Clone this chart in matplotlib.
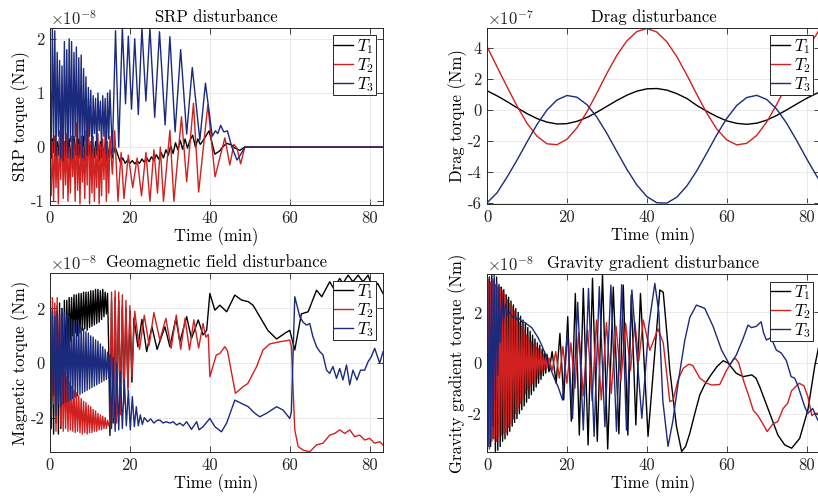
import numpy as np
import matplotlib
matplotlib.use("Agg")
import matplotlib.pyplot as plt

plt.rcParams.update({
    "font.family": "serif",
    "font.serif": ["cmr10"],
    "mathtext.fontset": "cm",
    "axes.unicode_minus": False,
    "axes.formatter.use_mathtext": False,
})

# ---------------------------------------------------------------- data
# time axis in minutes; torques are in units of the offset shown on each panel
t_fast = [0.0, 0.3, 0.6, 0.9, 1.2, 1.5, 1.8, 2.1, 2.4, 2.7,
          3.0, 3.3, 3.6, 3.9, 4.2, 4.5, 4.8, 5.1, 5.4, 5.7,
          6.0, 6.3, 6.6, 6.9, 7.2, 7.5, 7.8, 8.1, 8.4, 8.7,
          9.0, 9.3, 9.6, 9.9, 10.2, 10.5, 10.8, 11.1, 11.4, 11.7,
          12.0, 12.3, 12.6, 12.9, 13.2, 13.5, 13.8, 14.1, 14.4, 14.7,
          15.0]

# SRP disturbance (x1e-8 Nm)
srp_T1_fast = [0.0, -0.2, 0.15, -0.1, 0.2, -0.25, 0.1, -0.15, 0.2, -0.2,
               0.15, -0.25, 0.1, -0.2, 0.2, -0.1, 0.15, -0.25, 0.05, -0.2,
               0.2, -0.15, 0.1, -0.25, 0.15, -0.2, 0.1, -0.1, 0.2, -0.25,
               0.05, -0.2, 0.15, -0.15, 0.1, -0.25, 0.05, -0.2, 0.1, -0.15,
               0.05, -0.25, 0.1, -0.2, 0.0, -0.15, 0.05, -0.25, 0.0, -0.2,
               0.05]
srp_T2_fast = [-0.2, -0.9, 0.1, -1.0, 0.2, -0.75, 0.0, -1.05, 0.3, -0.6,
               0.6, -0.95, 0.1, -0.7, 0.25, -1.0, 0.0, -0.85, 0.2, -0.55,
               0.1, -1.0, 0.45, -0.8, 0.05, -1.05, 0.2, -0.65, 0.0, -0.95,
               0.3, -0.7, 0.9, -1.05, 0.1, -0.85, 0.2, -1.0, 0.0, -0.75,
               0.25, -1.05, 0.05, -0.9, 0.15, -0.6, 0.3, -1.0, 0.1, -0.85,
               0.2]
srp_T3_fast = [1.5, -0.2, 2.2, 0.1, 2.15, -0.15, 1.75, 0.2, 1.6, -0.2,
               1.5, -0.25, 1.95, 0.0, 1.8, -0.2, 2.0, 0.1, 1.95, -0.2,
               1.75, 0.2, 1.85, -0.15, 1.65, 0.05, 1.7, -0.2, 1.45, 0.1,
               1.3, -0.15, 1.1, 0.2, 1.05, -0.1, 0.95, 0.25, 0.9, -0.05,
               1.0, 0.3, 0.85, 0.0, 0.95, 0.2, 0.9, -0.1, 1.0, 0.15,
               1.05]
srp_T1_t = [15.6, 16.3, 17.0, 17.6, 18.2, 18.8, 19.4, 20.0, 20.6, 21.2,
            21.8, 22.4, 23.0, 23.6, 24.2, 24.8, 25.4, 26.0, 26.6, 27.2,
            27.8, 28.4, 29.0, 29.6, 30.2, 30.8, 31.4, 32.0, 32.6, 33.2,
            33.8, 34.4, 35.0, 35.7, 36.4, 37.0, 37.6, 38.3, 39.8, 41.25,
            42.5, 43.2, 44.2, 45.4, 46.3, 47.5, 48.75, 83.33]
srp_T1_v = [-0.2, 0.0, -0.15, -0.28, -0.2, -0.3, -0.24, -0.3, -0.25, -0.31,
            -0.26, -0.3, -0.22, -0.28, -0.2, -0.27, -0.18, -0.25, -0.14, -0.22,
            -0.1, -0.2, -0.05, -0.15, 0.02, -0.12, 0.08, -0.05, 0.12, -0.04,
            0.15, -0.02, 0.12, 0.22, 0.0, 0.15, 0.05, 0.12, 0.3, -0.13,
            -0.07, 0.0, 0.07, 0.04, -0.02, -0.06, 0.0, 0.0]
srp_T2_t = [15.6, 16.2, 17.0, 17.8, 18.5, 19.6, 20.7, 21.8, 22.9, 24.0,
            25.0, 26.0, 26.9, 27.6, 28.4, 30.0, 31.0, 32.9, 34.2, 35.9,
            37.2, 39.5, 41.3, 43.75, 45.0, 46.0, 46.8, 47.7, 48.75, 83.33]
srp_T2_v = [-0.5, 0.3, -1.0, -0.1, -0.95, -0.15, -0.75, -0.2, -0.9, -0.1,
            -1.0, -0.05, -0.85, 0.0, -1.0, 0.31, -1.0, 0.56, -0.64, 0.81,
            -0.83, 0.78, -0.55, 0.17, -0.33, 0.05, -0.02, -0.31, 0.0, 0.0]
srp_T3_t = [15.6, 16.4, 17.2, 18.1, 18.9, 19.6, 20.4, 21.2, 22.1, 23.0,
            24.0, 25.0, 26.2, 27.4, 28.8, 30.0, 31.3, 32.7, 34.2, 35.6,
            37.5, 38.9, 40.6, 41.4, 42.0, 42.7, 43.5, 44.4, 45.5, 46.8,
            47.6, 48.75, 83.33]
srp_T3_v = [-0.1, 2.15, 0.0, 2.2, 0.8, 2.05, 0.7, 2.0, 0.6, 2.2,
            0.85, 2.2, 0.55, 2.13, 0.41, 2.04, 0.28, 1.8, 0.24, 1.47,
            0.13, 1.18, 0.2, 0.3, 0.25, 0.4, 0.28, 0.3, 0.0, -0.24,
            -0.15, 0.0, 0.0]

# Drag disturbance (x1e-7 Nm)
drag_t = [0.0, 2.5, 5.0, 7.5, 10.0, 12.5, 15.0, 17.5, 20.0, 22.5,
          25.0, 27.5, 30.0, 32.5, 35.0, 37.5, 40.0, 42.5, 45.0, 47.5,
          50.0, 52.5, 55.0, 57.5, 60.0, 62.5, 65.0, 67.5, 70.0, 72.5,
          75.0, 77.5, 80.0, 82.5, 83.33]
drag_T1 = [1.25, 0.92, 0.55, 0.15, -0.23, -0.55, -0.78, -0.9, -0.88, -0.73,
           -0.48, -0.14, 0.24, 0.62, 0.96, 1.22, 1.37, 1.39, 1.29, 1.06,
           0.75, 0.3, -0.08, -0.42, -0.7, -0.86, -0.92, -0.85, -0.65, -0.35,
           0.01, 0.39, 0.76, 1.08, 1.16]
drag_T2 = [4.1, 2.8, 1.51, 0.26, -0.85, -1.69, -2.18, -2.24, -1.89, -1.15,
           -0.12, 1.10, 2.37, 3.54, 4.47, 5.07, 5.27, 5.04, 4.41, 3.45,
           2.27, 1.01, -0.2, -1.23, -1.93, -2.25, -2.15, -1.64, -0.77, 0.36,
           1.62, 2.86, 3.95, 4.9, 5.3]
drag_T3 = [-6.0, -5.35, -4.34, -3.24, -2.07, -0.94, 0.0, 0.65, 0.94, 0.83,
           0.35, -0.46, -1.51, -2.68, -3.83, -4.84, -5.59, -5.99, -6.01, -5.63,
           -4.91, -3.92, -2.78, -1.60, -0.54, 0.30, 0.81, 0.95, 0.68, 0.06,
           -0.86, -1.97, -3.15, -4.27, -4.61]

# Geomagnetic field disturbance (x1e-8 Nm)
mag_T1_fast = [1.0, -2.4, 2.0, -2.6, 1.9, -2.2, 2.1, -2.6, 2.2, -2.4,
               2.0, -1.2, 2.3, -0.2, 2.3, 0.4, 2.4, 0.8, 2.4, 1.0,
               2.5, 1.1, 2.5, 1.0, 2.55, 1.1, 2.55, 1.2, 2.6, 1.25,
               2.6, 1.2, 2.6, 1.3, 2.65, 1.35, 2.65, 1.4, 2.7, 1.45,
               2.7, 1.5, 2.65, 1.6, 2.7, 1.7, 2.6, 1.8, 2.55, 0.5,
               -2.65]
mag_T2_fast = [2.5, -2.0, 2.4, -1.5, 2.2, -2.5, 2.4, -1.0, 1.8, -2.3,
               0.3, -2.5, -0.3, -2.4, -0.5, -2.5, -0.7, -2.45, -0.85, -2.5,
               -1.0, -2.55, -1.1, -2.5, -1.2, -2.55, -1.3, -2.6, -1.4, -2.55,
               -1.45, -2.6, -1.55, -2.55, -1.6, -2.55, -1.7, -2.5, -1.75, -2.5,
               -1.85, -2.45, -1.9, -2.45, -1.95, -2.4, -2.0, -2.4, -2.1, -2.3,
               -2.1]
mag_T3_fast = [1.5, -2.0, 1.9, -1.2, 1.7, -1.9, 1.9, -1.5, 1.8, -1.6,
               2.0, -1.5, 1.85, -1.45, 1.75, -1.4, 1.7, -1.35, 1.6, -1.3,
               1.55, -1.25, 1.45, -1.2, 1.4, -1.15, 1.3, -1.1, 1.25, -1.05,
               1.15, -1.0, 1.1, -0.95, 1.0, -0.9, 0.95, -0.85, 0.85, -0.8,
               0.8, -0.75, 0.7, -0.7, 0.6, -0.65, 0.5, -0.6, 0.4, -0.55,
               0.3]
mag_T1_t = [15.4, 15.8, 16.3, 16.7, 17.2, 17.6, 18.1, 18.5, 19.0, 19.5,
            20.0, 20.5, 21.0, 22.0, 23.0, 24.2, 25.5, 26.8, 28.75, 30.0,
            31.5, 32.5, 34.2, 35.4, 37.1, 38.3, 39.2, 40.0, 41.25, 42.5,
            44.2, 46.25, 47.9, 49.6, 50.8, 52.5, 54.5, 56.7, 58.75, 60.0,
            61.25, 62.9, 64.6, 66.7, 68.0, 70.0, 71.0, 72.5, 73.3, 74.6,
            75.8, 77.1, 78.3, 79.6, 80.8, 82.0, 83.33]
mag_T1_v = [2.3, -2.2, 2.4, -1.9, 2.3, -1.6, 2.1, -1.3, 2.0, -0.9,
            1.9, -0.7, 1.65, 0.6, 1.6, 0.42, 1.33, 0.5, 1.33, 0.6,
            1.64, 0.78, 1.7, 0.9, 1.58, 1.03, 1.2, 2.55, 1.94, 2.12,
            1.88, 2.49, 2.31, 2.25, 2.12, 1.7, 1.2, 0.88, 1.09, 1.2,
            0.48, 1.8, 1.88, 2.67, 2.43, 2.98, 2.73, 3.1, 2.92, 3.22,
            2.98, 3.22, 2.98, 3.22, 2.73, 2.92, 2.55]
mag_T2_t = [15.4, 15.8, 16.3, 16.7, 17.2, 17.6, 18.1, 18.5, 19.0, 19.5,
            20.0, 20.5, 21.2, 22.4, 23.6, 24.8, 26.0, 27.5, 29.0, 30.3,
            31.6, 32.7, 33.8, 34.9, 36.0, 37.2, 38.3, 39.0, 39.6, 40.0,
            41.6, 42.5, 43.75, 44.4, 46.4, 48.3, 49.5, 51.7, 53.3, 55.0,
            57.5, 60.0, 60.4, 61.25, 62.1, 63.3, 65.0, 66.7, 68.3, 70.0,
            71.25, 72.5, 73.75, 75.0, 76.25, 77.5, 78.75, 80.0, 81.25, 82.5,
            83.33]
mag_T2_v = [2.6, -2.0, 2.65, -2.2, 2.6, -1.9, 2.5, -1.5, 2.3, -1.0,
            2.1, -0.5, 1.9, 0.5, 1.75, 0.65, 1.85, 0.84, 1.64, 0.54,
            1.76, 0.5, 1.64, 0.48, 1.58, 0.55, 1.45, 0.95, 1.05, -0.5,
            0.29, 0.35, 0.6, 0.45, -1.11, -0.87, -0.75, -0.13, 0.48, 0.7,
            0.78, 0.84, 0.6, -2.45, -3.06, -3.19, -3.25, -3.0, -2.94, -2.64,
            -2.58, -2.45, -2.58, -2.45, -2.7, -2.64, -2.82, -2.76, -2.94, -2.88,
            -3.0]
mag_T3_t = [15.4, 15.8, 16.3, 16.7, 17.2, 17.6, 18.1, 18.6, 19.1, 19.6,
            20.1, 20.6, 21.1, 21.6, 22.1, 22.6, 23.1, 23.6, 24.4, 25.2,
            26.0, 26.8, 27.5, 28.3, 29.0, 30.0, 30.8, 31.7, 32.5, 33.3,
            34.2, 35.4, 36.7, 37.3, 38.3, 40.0, 41.25, 42.9, 44.2, 46.25,
            47.9, 49.6, 51.25, 52.5, 54.2, 56.7, 58.3, 60.0, 60.4, 61.25,
            62.1, 62.5, 63.3, 64.2, 65.0, 65.8, 66.7, 67.5, 68.3, 69.2,
            70.0, 70.8, 71.7, 72.5, 73.3, 74.2, 75.0, 75.8, 76.8, 77.7,
            78.75, 79.6, 80.4, 81.25, 82.5, 83.33]
mag_T3_v = [-2.4, 0.2, -2.5, 0.0, -2.45, -0.3, -2.4, -0.6, -2.3, -1.0,
            -2.45, -1.23, -2.33, -1.6, -2.3, -1.9, -2.25, -2.0, -2.15, -2.05,
            -2.2, -2.1, -2.09, -2.2, -2.15, -2.2, -2.15, -2.27, -2.2, -2.3,
            -2.15, -2.43, -2.15, -2.45, -2.33, -2.03, -2.33, -2.52, -2.2, -1.36,
            -1.48, -1.6, -1.84, -1.97, -1.84, -1.6, -1.72, -2.03, -1.8, 2.43,
            1.94, 1.7, 1.5, 1.39, 1.45, 0.96, 0.6, 0.42, 0.3, -0.26,
            -0.38, -0.13, -0.56, -0.2, -0.62, -0.07, -0.8, -0.26, -0.62, -0.26,
            -0.26, 0.05, 0.23, 0.54, 0.0, 0.41]

# Gravity gradient disturbance (x1e-8 Nm)
gg_T1_fast = [3.2, -2.0, 3.4, -3.3, 3.5, -3.0, 3.3, -3.5, 3.4, -3.45,
              3.1, -3.3, 3.0, -3.1, 2.9, -3.0, 2.7, -2.85, 2.6, -2.7,
              2.45, -2.5, 2.3, -2.35, 2.15, -2.2, 2.0, -2.0, 1.85, -1.85,
              1.7, -1.7, 1.55, -1.55, 1.4, -1.4, 1.25, -1.25, 1.1, -1.1,
              0.95, -0.95, 0.8, -0.8, 0.7, -0.65, 0.55, -0.5, 0.45, -0.4,
              0.35]
gg_T2_fast = [-2.0, 3.3, -3.4, 3.2, -3.1, 3.3, -3.0, 3.1, -3.1, 3.0,
              -2.9, 3.0, -2.85, 2.85, -2.8, 2.7, -2.75, 2.5, -2.55, 2.35,
              -2.4, 2.2, -2.2, 2.05, -2.0, 1.8, -1.8, 1.6, -1.6, 1.45,
              -1.4, 1.3, -1.2, 1.1, -1.05, 0.95, -0.9, 0.85, -0.8, 0.75,
              -0.7, 0.65, -0.6, 0.55, -0.45, 0.45, -0.35, 0.35, -0.25, 0.25,
              -0.2]
gg_T3_fast = [2.5, -3.3, 3.4, -3.0, 3.3, -2.5, 3.5, -1.5, 3.2, -0.5,
              3.0, 0.8]
gg_T1_t = [15.5, 16.3, 17.3, 18.25, 19.2, 20.2, 21.1, 22.1, 23.1, 24.1,
           25.3, 26.4, 27.6, 28.9, 30.2, 31.6, 33.0, 34.1, 35.25, 36.1,
           37.25, 38.4, 40.3, 43.25, 44.1, 45.0, 45.75, 47.4, 48.7, 49.7,
           50.75, 52.0, 53.25, 54.5, 55.75, 57.5, 59.1, 60.3, 62.4, 64.1,
           66.25, 67.3, 68.25, 70.75, 72.8, 74.5, 76.25, 78.25, 80.3, 82.0,
           83.33]
gg_T1_v = [-0.35, 0.45, -0.8, 1.17, -1.46, 1.83, -2.3, 2.75, -2.85, 2.95,
           -3.24, 3.35, -3.1, 3.5, -3.4, 3.0, -2.8, 3.08, -2.85, 2.69,
           -2.45, 2.75, -2.9, 2.89, 2.8, 1.2, -0.28, -2.5, -3.5, -3.3,
           -2.78, -2.0, -1.26, -0.85, -0.54, -0.15, 0.09, 0.0, -0.41, -0.54,
           -0.47, -0.6, -0.94, -1.99, -2.85, -3.24, -3.37, -2.98, -1.86, -0.14,
           0.9]
gg_T2_t = [15.5, 16.3, 17.2, 18.1, 19.0, 20.0, 21.0, 22.0, 23.0, 24.1,
           25.2, 26.3, 27.4, 28.6, 29.9, 31.1, 32.3, 33.5, 34.7, 35.9,
           37.0, 38.0, 39.1, 40.75, 42.8, 44.1, 45.75, 46.6, 47.8, 49.1,
           50.5, 51.5, 53.25, 55.0, 56.2, 58.25, 59.9, 61.6, 62.2, 63.0,
           64.3, 65.5, 66.6, 67.8, 69.0, 70.1, 71.6, 72.75, 74.1, 75.25,
           76.2, 78.1, 79.3, 80.3, 81.3, 82.0, 82.8, 83.33]
gg_T2_v = [0.2, -0.3, 0.45, -0.6, 0.65, -0.8, 0.8, -1.0, 1.2, -1.3,
           1.3, -1.5, 1.7, -1.46, 1.6, -1.2, 1.45, -0.7, 1.57, -0.3,
           1.6, 0.1, 1.7, 0.5, 1.35, 0.8, -1.53, -1.46, -0.67, -0.21,
           -0.05, -0.1, -0.6, -0.8, -0.87, -0.85, -0.3, 0.13, 0.18, 0.0,
           -0.75, -1.3, -1.86, -2.08, -2.4, -2.71, -2.4, -2.32, -1.8, -1.59,
           -1.1, -0.8, -0.9, -1.33, -2.08, -2.0, -1.99, -1.9]
gg_T3_t = [3.7, 4.1, 4.6, 5.2, 5.75, 6.4, 7.0, 7.6, 8.2, 8.7,
           9.5, 10.3, 11.2, 12.0, 12.8, 13.7, 14.5, 15.3, 16.2, 17.0,
           17.8, 18.9, 20.1, 21.4, 22.7, 24.1, 25.4, 26.8, 28.1, 29.5,
           31.0, 32.4, 33.7, 34.9, 36.25, 38.75, 40.5, 42.0, 43.0, 44.0,
           45.3, 46.5, 48.0, 49.5, 50.75, 52.4, 54.5, 56.6, 58.7, 60.75,
           62.4, 64.1, 65.3, 66.2, 67.4, 68.6, 69.2, 69.9, 71.1, 72.4,
           73.6, 74.9, 76.1, 77.0, 77.8, 79.5, 80.3, 81.5, 82.75, 83.33]
gg_T3_v = [2.6, 1.6, 2.3, 1.9, 2.0, 1.8, 1.85, 1.7, 1.75, 1.63,
           1.6, 1.5, 1.4, 1.2, 1.0, 0.7, 0.38, 0.0, -0.35, -0.67,
           -0.94, -1.46, 1.2, -2.2, 2.4, -2.65, 2.95, -2.9, 3.02, -2.52,
           3.08, -2.7, 3.1, -2.65, 2.89, -2.19, 1.5, 3.15, 2.0, -1.5,
           -3.3, -2.3, -0.6, 0.9, 1.8, 2.29, 2.16, 1.44, 0.51, -0.08,
           0.32, 0.97, 1.5, 1.4, 1.45, 1.63, 1.2, 0.91, 1.0, 0.51,
           0.4, 0.1, -0.54, -0.6, -0.9, -1.73, -1.99, -1.8, -2.25, -2.3]

labels = ["$T_1$", "$T_2$", "$T_3$"]
colors = ["black", "#d0201f", "#1b2a7d"]


def join(t_a, v_a, t_b, v_b):
    return np.concatenate([t_a, t_b]), np.concatenate([v_a, v_b])


srp = [join(t_fast, srp_T1_fast, srp_T1_t, srp_T1_v),
       join(t_fast, srp_T2_fast, srp_T2_t, srp_T2_v),
       join(t_fast, srp_T3_fast, srp_T3_t, srp_T3_v)]
drag = [(drag_t, drag_T1), (drag_t, drag_T2), (drag_t, drag_T3)]
mag = [join(t_fast, mag_T1_fast, mag_T1_t, mag_T1_v),
       join(t_fast, mag_T2_fast, mag_T2_t, mag_T2_v),
       join(t_fast, mag_T3_fast, mag_T3_t, mag_T3_v)]
gg = [join(t_fast, gg_T1_fast, gg_T1_t, gg_T1_v),
      join(t_fast, gg_T2_fast, gg_T2_t, gg_T2_v),
      join(t_fast[:len(gg_T3_fast)], gg_T3_fast, gg_T3_t, gg_T3_v)]

panels = [
    # series, title, ylabel, exponent, ylim, yticks, [left, top, width, height] in px
    (srp, "SRP disturbance", "SRP torque (Nm)", "-8", (-1.07, 2.2), [-1, 0, 1, 2], (50, 28, 333, 177)),
    (drag, "Drag disturbance", "Drag torque (Nm)", "-7", (-6.07, 5.3), [-6, -4, -2, 0, 2, 4], (487, 28, 333, 176)),
    (mag, "Geomagnetic field disturbance", "Magnetic torque (Nm)", "-8", (-3.26, 3.3), [-2, 0, 2], (50, 273, 333, 179)),
    (gg, "Gravity gradient disturbance", "Gravity gradient torque (Nm)", "-8", (-3.52, 3.52), [-2, 0, 2], (487, 274, 333, 178)),
]

W, H = 818, 498
fig = plt.figure(figsize=(W / 100, H / 100), dpi=100)
edge = "#262626"

for series, title, ylabel, expo, ylim, yticks, (l, top, w, h) in panels:
    ax = fig.add_axes([l / W, 1 - (top + h) / H, w / W, h / H])
    for (t, v), c, lab in zip(series, colors, labels):
        ax.plot(t, v, color=c, lw=1.0, label=lab)
    ax.set_xlim(0, 83.33)
    ax.set_ylim(*ylim)
    ax.set_xticks([0, 20, 40, 60, 80])
    ax.set_yticks(yticks)
    ax.grid(True, color="#e6e6e6", lw=0.6)
    ax.set_axisbelow(True)
    ax.tick_params(direction="in", top=True, right=True, length=4, width=0.6,
                   labelsize=12, colors=edge, pad=4)
    for s in ax.spines.values():
        s.set_color(edge)
        s.set_linewidth(0.7)
    ax.set_title(title, fontsize=12, pad=4)
    ax.set_xlabel("Time (min)", fontsize=12, labelpad=1)
    ax.set_ylabel(ylabel, fontsize=12)
    ax.yaxis.set_label_coords(-20 / w, 0.5)
    ax.text(0.0, 1.0, r"$\times 10^{" + expo + "}$", transform=ax.transAxes,
            ha="left", va="bottom", fontsize=12, color=edge)
    leg = ax.legend(loc="upper right", fontsize=12, fancybox=False, framealpha=1,
                    edgecolor=edge, borderpad=0.1, labelspacing=0.0, handlelength=1.1,
                    handletextpad=0.25, borderaxespad=0.45)
    leg.get_frame().set_linewidth(0.7)

fig.savefig("out.png", dpi=100)
